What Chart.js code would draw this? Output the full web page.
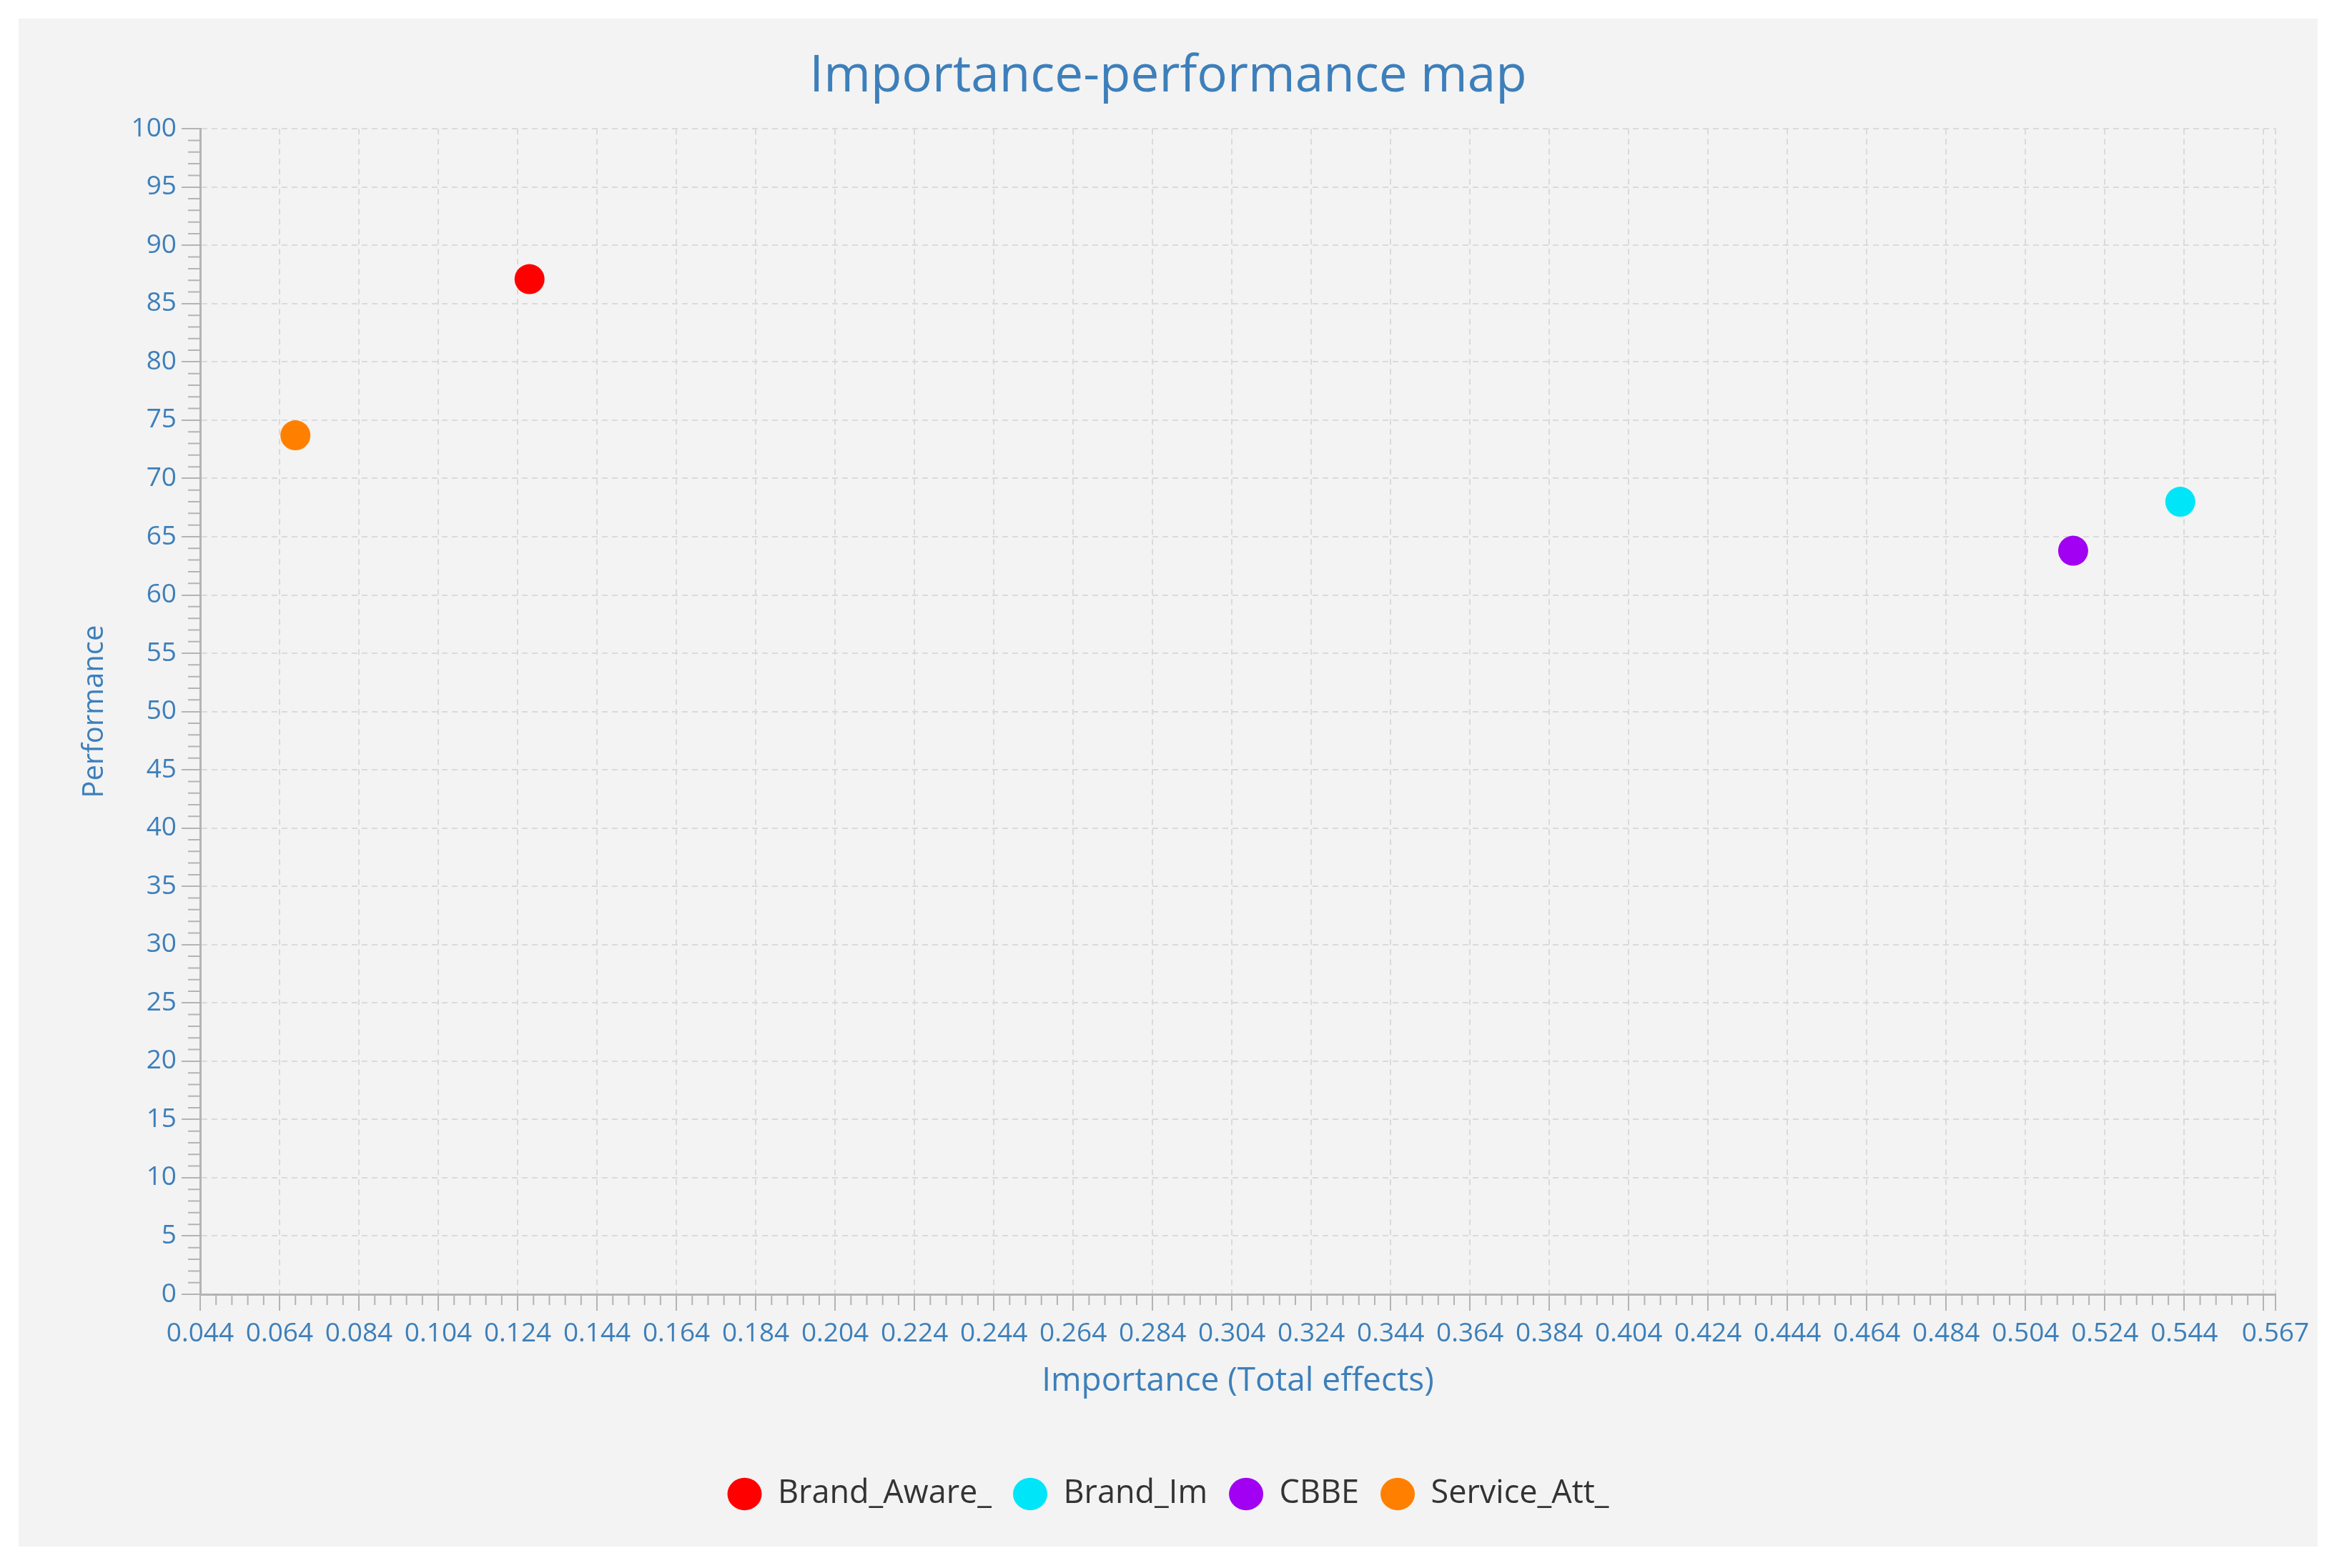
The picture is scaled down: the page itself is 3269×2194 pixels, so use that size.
<!DOCTYPE html>
<html>
<head>
<meta charset="utf-8">
<title>Importance-performance map</title>
<script src="https://cdn.jsdelivr.net/npm/chart.js@4.4.1/dist/chart.umd.min.js"></script>
<style>
  html, body { margin: 0; padding: 0; background: #ffffff; }
  #panel { position: absolute; left: 26px; top: 26px; width: 3216px; height: 2138px; background: #f3f3f3; }
</style>
</head>
<body>
<div id="panel"><canvas id="ipmap"></canvas></div>
<script>
// data
const seriesNames = ['Brand_Aware_', 'Brand_Im', 'CBBE', 'Service_Att_'];
const importance = [0.127, 0.543, 0.516, 0.068];
const performance = [87.1, 68.0, 63.8, 73.7];
const seriesColors = ['#ff0000', '#00e5f8', '#a200f2', '#ff8000'];

const xTicks = [0.044, 0.064, 0.084, 0.104, 0.124, 0.144, 0.164, 0.184, 0.204, 0.224, 0.244,
  0.264, 0.284, 0.304, 0.324, 0.344, 0.364, 0.384, 0.404, 0.424, 0.444, 0.464, 0.484,
  0.504, 0.524, 0.544, 0.564, 0.567];
const xTickLabels = ['0.044', '0.064', '0.084', '0.104', '0.124', '0.144', '0.164', '0.184', '0.204',
  '0.224', '0.244', '0.264', '0.284', '0.304', '0.324', '0.344', '0.364', '0.384', '0.404', '0.424',
  '0.444', '0.464', '0.484', '0.504', '0.524', '0.544', '', '0.567'];
const yTicks = [0, 5, 10, 15, 20, 25, 30, 35, 40, 45, 50, 55, 60, 65, 70, 75, 80, 85, 90, 95, 100];

const blue = '#3d7fba';
const axisGray = '#b4b4b4';
const gridGray = '#dadada';
const fontFamily = "'Open Sans', 'Noto Sans', sans-serif";

// small minor tick marks, like the original plot
const minorTicks = {
  id: 'minorTicks',
  afterDraw(chart) {
    const { ctx, chartArea } = chart;
    const x = chart.scales.x, y = chart.scales.y;
    ctx.save();
    ctx.strokeStyle = axisGray;
    ctx.lineWidth = 2;
    ctx.beginPath();
    for (let i = 1; i < 100; i++) {
      if (i % 5 === 0) continue;
      const py = y.getPixelForValue(i);
      ctx.moveTo(chartArea.left - 17, py);
      ctx.lineTo(chartArea.left, py);
    }
    for (let k = 1; ; k++) {
      const v = 0.044 + k * 0.004;
      if (v > 0.5665) break;
      if (k % 5 === 0) continue;
      const px = x.getPixelForValue(v);
      ctx.moveTo(px, chartArea.bottom);
      ctx.lineTo(px, chartArea.bottom + 15);
    }
    ctx.stroke();
    ctx.restore();
  }
};

new Chart(document.getElementById('ipmap'), {
  type: 'scatter',
  data: {
    datasets: seriesNames.map((name, i) => ({
      label: name,
      data: [{ x: importance[i], y: performance[i] }],
      backgroundColor: seriesColors[i],
      borderColor: seriesColors[i],
      borderWidth: 0,
      pointRadius: 21,
      pointHoverRadius: 21
    }))
  },
  options: {
    responsive: true,
    maintainAspectRatio: false,
    animation: false,
    layout: { padding: { left: 59, right: 59, top: 0, bottom: 41 } },
    plugins: {
      tooltip: { enabled: false },
      title: {
        display: true,
        text: 'Importance-performance map',
        color: blue,
        font: { family: fontFamily, size: 71, weight: 'normal' },
        padding: { top: 39, bottom: 30 }
      },
      legend: {
        position: 'bottom',
        labels: {
          usePointStyle: true,
          pointStyle: 'circle',
          boxHeight: 32,
          pointStyleWidth: 48,
          padding: 30,
          color: '#333333',
          font: { family: fontFamily, size: 45 }
        }
      }
    },
    scales: {
      x: {
        type: 'linear',
        min: 0.044,
        max: 0.567,
        afterBuildTicks: (scale) => { scale.ticks = xTicks.map(v => ({ value: v })); },
        afterFit: (scale) => { scale.height = 227; },
        ticks: {
          autoSkip: false,
          maxRotation: 0,
          padding: 10,
          color: blue,
          font: { family: fontFamily, size: 37 },
          callback: (value, index) => xTickLabels[index]
        },
        grid: { color: gridGray, lineWidth: 2, tickLength: 23, tickColor: axisGray, tickWidth: 2 },
        border: { color: axisGray, width: 3, dash: [8, 6] },
        title: {
          display: true,
          text: 'Importance (Total effects)',
          color: blue,
          font: { family: fontFamily, size: 46 },
          padding: { top: 0, bottom: 78 }
        }
      },
      y: {
        type: 'linear',
        min: 0,
        max: 100,
        afterBuildTicks: (scale) => { scale.ticks = yTicks.map(v => ({ value: v })); },
        afterFit: (scale) => { scale.width = 195; },
        ticks: {
          padding: 7,
          color: blue,
          font: { family: fontFamily, size: 37 }
        },
        grid: { color: gridGray, lineWidth: 2, tickLength: 26, tickColor: axisGray, tickWidth: 2 },
        border: { color: axisGray, width: 3, dash: [8, 6] },
        title: {
          display: true,
          text: 'Performance',
          color: blue,
          font: { family: fontFamily, size: 40 },
          padding: { top: 24, bottom: 0 }
        }
      }
    }
  },
  plugins: [minorTicks]
});
</script>
</body>
</html>
